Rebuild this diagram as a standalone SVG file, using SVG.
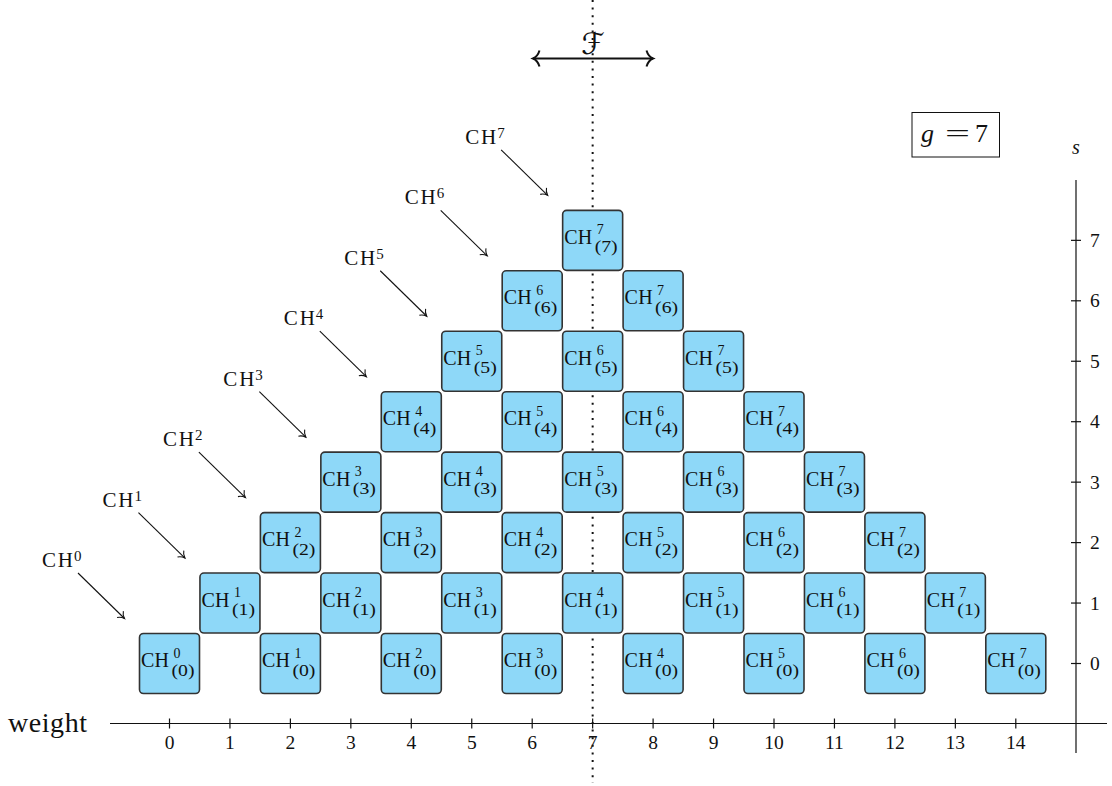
<svg xmlns="http://www.w3.org/2000/svg" width="1112" height="786" viewBox="0 0 1112 786">
<style>
.box{fill:#8ED8F8;stroke:#333;stroke-width:1.6}
.ch{font-family:"Liberation Serif",serif;font-size:20px;fill:#111}
.sup{font-family:"Liberation Serif",serif;font-size:14px;fill:#111}
.sub{font-family:"Liberation Serif",serif;font-size:16px;fill:#111}
.lab{font-family:"Liberation Serif",serif;font-size:21px;fill:#111}
.labsup{font-family:"Liberation Serif",serif;font-size:15px;fill:#111}
.tick{font-family:"Liberation Serif",serif;font-size:19.5px;fill:#111;text-anchor:middle}
.stick{font-family:"Liberation Serif",serif;font-size:19.5px;fill:#111}
.ax{stroke:#111;stroke-width:1.2;fill:none}
.arr{stroke:#111;stroke-width:1.1;fill:none;marker-end:url(#to)}
</style>
<defs>
<marker id="to" markerUnits="userSpaceOnUse" viewBox="-10 -10 12 20" markerWidth="12" markerHeight="20" refX="0" refY="0" orient="auto" overflow="visible">
<path d="M -6 -4.5 C -4.5 -2 -1.5 -0.5 0 0 C -1.5 0.5 -4.5 2 -6 4.5" fill="none" stroke="#111" stroke-width="1.1"/>
</marker>
<marker id="tobig" markerUnits="userSpaceOnUse" viewBox="-10 -10 12 20" markerWidth="12" markerHeight="20" refX="0" refY="0" orient="auto-start-reverse" overflow="visible">
<path d="M -6.5 -8 C -5 -3 -2 -0.8 0 0 C -2 0.8 -5 3 -6.5 8" fill="none" stroke="#111" stroke-width="2"/>
</marker>
</defs>
<rect x="0" y="0" width="1112" height="786" fill="#fff"/>

<g id="dotted-line">
<line x1="592.65" y1="0" x2="592.65" y2="783" stroke="#111" stroke-width="2" stroke-dasharray="2 5.6"/>
</g>

<g id="axes">
<line class="ax" x1="110" y1="723.5" x2="1107" y2="723.5"/>
<line class="ax" x1="1076" y1="180" x2="1076" y2="753"/>
<g class="ax">
<line x1="169.5" y1="718.5" x2="169.5" y2="728.5"/>
<line x1="229.95" y1="718.5" x2="229.95" y2="728.5"/>
<line x1="290.4" y1="718.5" x2="290.4" y2="728.5"/>
<line x1="350.85" y1="718.5" x2="350.85" y2="728.5"/>
<line x1="411.3" y1="718.5" x2="411.3" y2="728.5"/>
<line x1="471.75" y1="718.5" x2="471.75" y2="728.5"/>
<line x1="532.2" y1="718.5" x2="532.2" y2="728.5"/>
<line x1="592.65" y1="718.5" x2="592.65" y2="728.5"/>
<line x1="653.1" y1="718.5" x2="653.1" y2="728.5"/>
<line x1="713.55" y1="718.5" x2="713.55" y2="728.5"/>
<line x1="774" y1="718.5" x2="774" y2="728.5"/>
<line x1="834.45" y1="718.5" x2="834.45" y2="728.5"/>
<line x1="894.9" y1="718.5" x2="894.9" y2="728.5"/>
<line x1="955.35" y1="718.5" x2="955.35" y2="728.5"/>
<line x1="1015.8" y1="718.5" x2="1015.8" y2="728.5"/>
<line x1="1071" y1="663.5" x2="1081" y2="663.5"/>
<line x1="1071" y1="603.05" x2="1081" y2="603.05"/>
<line x1="1071" y1="542.6" x2="1081" y2="542.6"/>
<line x1="1071" y1="482.15" x2="1081" y2="482.15"/>
<line x1="1071" y1="421.7" x2="1081" y2="421.7"/>
<line x1="1071" y1="361.25" x2="1081" y2="361.25"/>
<line x1="1071" y1="300.8" x2="1081" y2="300.8"/>
<line x1="1071" y1="240.35" x2="1081" y2="240.35"/>
</g>
<text x="8" y="732" font-family="Liberation Serif,serif" font-size="28" fill="#111" textLength="79">weight</text>
<text class="tick" x="169.5" y="749">0</text>
<text class="tick" x="229.95" y="749">1</text>
<text class="tick" x="290.4" y="749">2</text>
<text class="tick" x="350.85" y="749">3</text>
<text class="tick" x="411.3" y="749">4</text>
<text class="tick" x="471.75" y="749">5</text>
<text class="tick" x="532.2" y="749">6</text>
<text class="tick" x="592.65" y="749">7</text>
<text class="tick" x="653.1" y="749">8</text>
<text class="tick" x="713.55" y="749">9</text>
<text class="tick" x="774" y="749">10</text>
<text class="tick" x="834.45" y="749">11</text>
<text class="tick" x="894.9" y="749">12</text>
<text class="tick" x="955.35" y="749">13</text>
<text class="tick" x="1015.8" y="749">14</text>
<text class="stick" x="1090" y="670">0</text>
<text class="stick" x="1090" y="609.6">1</text>
<text class="stick" x="1090" y="549.2">2</text>
<text class="stick" x="1090" y="488.7">3</text>
<text class="stick" x="1090" y="428.3">4</text>
<text class="stick" x="1090" y="367.8">5</text>
<text class="stick" x="1090" y="307.4">6</text>
<text class="stick" x="1090" y="247">7</text>
<text x="1072" y="154" font-family="Liberation Serif,serif" font-size="20" font-style="italic" fill="#111">s</text>
</g>

<g id="g-box">
<rect x="912" y="112.5" width="87.5" height="44.5" fill="#fff" stroke="#111" stroke-width="1"/>
<text x="921" y="142" font-family="Liberation Serif,serif" font-size="26" font-style="italic" fill="#111">g</text>
<text x="945" y="142" font-family="Liberation Serif,serif" font-size="26" fill="#111" textLength="25" lengthAdjust="spacingAndGlyphs">=</text>
<text x="975" y="142" font-family="Liberation Serif,serif" font-size="26" fill="#111">7</text>
</g>

<g id="symmetry-F">
<line x1="533" y1="58.5" x2="653" y2="58.5" stroke="#111" stroke-width="2" marker-start="url(#tobig)" marker-end="url(#tobig)"/>
<text x="593" y="54" font-family="DejaVu Serif,DejaVu Sans,serif" font-size="30" font-style="italic" fill="#111" text-anchor="middle">ℱ</text>
</g>

<g id="connectors">
<line class="arr" x1="78" y1="573" x2="124.5" y2="618.5"/>
<line class="arr" x1="138.45" y1="512.55" x2="184.95" y2="558.05"/>
<line class="arr" x1="198.9" y1="452.1" x2="245.4" y2="497.6"/>
<line class="arr" x1="259.35" y1="391.65" x2="305.85" y2="437.15"/>
<line class="arr" x1="319.8" y1="331.2" x2="366.3" y2="376.7"/>
<line class="arr" x1="380.25" y1="270.75" x2="426.75" y2="316.25"/>
<line class="arr" x1="440.7" y1="210.3" x2="487.2" y2="255.8"/>
<line class="arr" x1="501.15" y1="149.85" x2="547.65" y2="195.35"/>
</g>

<g id="labels">
<g id="label-CH0"><text class="lab" x="42" y="567" textLength="31">CH</text><text class="labsup" x="74" y="561">0</text></g>
<g id="label-CH1"><text class="lab" x="102.45" y="506.55" textLength="31">CH</text><text class="labsup" x="134.45" y="500.55">1</text></g>
<g id="label-CH2"><text class="lab" x="162.9" y="446.1" textLength="31">CH</text><text class="labsup" x="194.9" y="440.1">2</text></g>
<g id="label-CH3"><text class="lab" x="223.35" y="385.65" textLength="31">CH</text><text class="labsup" x="255.35" y="379.65">3</text></g>
<g id="label-CH4"><text class="lab" x="283.8" y="325.2" textLength="31">CH</text><text class="labsup" x="315.8" y="319.2">4</text></g>
<g id="label-CH5"><text class="lab" x="344.25" y="264.75" textLength="31">CH</text><text class="labsup" x="376.25" y="258.75">5</text></g>
<g id="label-CH6"><text class="lab" x="404.7" y="204.3" textLength="31">CH</text><text class="labsup" x="436.7" y="198.3">6</text></g>
<g id="label-CH7"><text class="lab" x="465.15" y="143.85" textLength="31">CH</text><text class="labsup" x="497.15" y="137.85">7</text></g>
</g>

<g id="nodes">
<g id="n0-0" transform="translate(169.5,663.5)"><rect class="box" x="-30" y="-30" width="60" height="60" rx="4"/><text class="ch" x="-28.5" y="3.5" textLength="28">CH</text><text class="sup" x="4" y="-6">0</text><text class="sub" x="2" y="12" textLength="23" lengthAdjust="spacingAndGlyphs">(0)</text></g>
<g id="n1-1" transform="translate(229.95,603.05)"><rect class="box" x="-30" y="-30" width="60" height="60" rx="4"/><text class="ch" x="-28.5" y="3.5" textLength="28">CH</text><text class="sup" x="4" y="-6">1</text><text class="sub" x="2" y="12" textLength="23" lengthAdjust="spacingAndGlyphs">(1)</text></g>
<g id="n1-0" transform="translate(290.4,663.5)"><rect class="box" x="-30" y="-30" width="60" height="60" rx="4"/><text class="ch" x="-28.5" y="3.5" textLength="28">CH</text><text class="sup" x="4" y="-6">1</text><text class="sub" x="2" y="12" textLength="23" lengthAdjust="spacingAndGlyphs">(0)</text></g>
<g id="n2-2" transform="translate(290.4,542.6)"><rect class="box" x="-30" y="-30" width="60" height="60" rx="4"/><text class="ch" x="-28.5" y="3.5" textLength="28">CH</text><text class="sup" x="4" y="-6">2</text><text class="sub" x="2" y="12" textLength="23" lengthAdjust="spacingAndGlyphs">(2)</text></g>
<g id="n2-1" transform="translate(350.85,603.05)"><rect class="box" x="-30" y="-30" width="60" height="60" rx="4"/><text class="ch" x="-28.5" y="3.5" textLength="28">CH</text><text class="sup" x="4" y="-6">2</text><text class="sub" x="2" y="12" textLength="23" lengthAdjust="spacingAndGlyphs">(1)</text></g>
<g id="n2-0" transform="translate(411.3,663.5)"><rect class="box" x="-30" y="-30" width="60" height="60" rx="4"/><text class="ch" x="-28.5" y="3.5" textLength="28">CH</text><text class="sup" x="4" y="-6">2</text><text class="sub" x="2" y="12" textLength="23" lengthAdjust="spacingAndGlyphs">(0)</text></g>
<g id="n3-3" transform="translate(350.85,482.15)"><rect class="box" x="-30" y="-30" width="60" height="60" rx="4"/><text class="ch" x="-28.5" y="3.5" textLength="28">CH</text><text class="sup" x="4" y="-6">3</text><text class="sub" x="2" y="12" textLength="23" lengthAdjust="spacingAndGlyphs">(3)</text></g>
<g id="n3-2" transform="translate(411.3,542.6)"><rect class="box" x="-30" y="-30" width="60" height="60" rx="4"/><text class="ch" x="-28.5" y="3.5" textLength="28">CH</text><text class="sup" x="4" y="-6">3</text><text class="sub" x="2" y="12" textLength="23" lengthAdjust="spacingAndGlyphs">(2)</text></g>
<g id="n3-1" transform="translate(471.75,603.05)"><rect class="box" x="-30" y="-30" width="60" height="60" rx="4"/><text class="ch" x="-28.5" y="3.5" textLength="28">CH</text><text class="sup" x="4" y="-6">3</text><text class="sub" x="2" y="12" textLength="23" lengthAdjust="spacingAndGlyphs">(1)</text></g>
<g id="n3-0" transform="translate(532.2,663.5)"><rect class="box" x="-30" y="-30" width="60" height="60" rx="4"/><text class="ch" x="-28.5" y="3.5" textLength="28">CH</text><text class="sup" x="4" y="-6">3</text><text class="sub" x="2" y="12" textLength="23" lengthAdjust="spacingAndGlyphs">(0)</text></g>
<g id="n4-4" transform="translate(411.3,421.7)"><rect class="box" x="-30" y="-30" width="60" height="60" rx="4"/><text class="ch" x="-28.5" y="3.5" textLength="28">CH</text><text class="sup" x="4" y="-6">4</text><text class="sub" x="2" y="12" textLength="23" lengthAdjust="spacingAndGlyphs">(4)</text></g>
<g id="n4-3" transform="translate(471.75,482.15)"><rect class="box" x="-30" y="-30" width="60" height="60" rx="4"/><text class="ch" x="-28.5" y="3.5" textLength="28">CH</text><text class="sup" x="4" y="-6">4</text><text class="sub" x="2" y="12" textLength="23" lengthAdjust="spacingAndGlyphs">(3)</text></g>
<g id="n4-2" transform="translate(532.2,542.6)"><rect class="box" x="-30" y="-30" width="60" height="60" rx="4"/><text class="ch" x="-28.5" y="3.5" textLength="28">CH</text><text class="sup" x="4" y="-6">4</text><text class="sub" x="2" y="12" textLength="23" lengthAdjust="spacingAndGlyphs">(2)</text></g>
<g id="n4-1" transform="translate(592.65,603.05)"><rect class="box" x="-30" y="-30" width="60" height="60" rx="4"/><text class="ch" x="-28.5" y="3.5" textLength="28">CH</text><text class="sup" x="4" y="-6">4</text><text class="sub" x="2" y="12" textLength="23" lengthAdjust="spacingAndGlyphs">(1)</text></g>
<g id="n4-0" transform="translate(653.1,663.5)"><rect class="box" x="-30" y="-30" width="60" height="60" rx="4"/><text class="ch" x="-28.5" y="3.5" textLength="28">CH</text><text class="sup" x="4" y="-6">4</text><text class="sub" x="2" y="12" textLength="23" lengthAdjust="spacingAndGlyphs">(0)</text></g>
<g id="n5-5" transform="translate(471.75,361.25)"><rect class="box" x="-30" y="-30" width="60" height="60" rx="4"/><text class="ch" x="-28.5" y="3.5" textLength="28">CH</text><text class="sup" x="4" y="-6">5</text><text class="sub" x="2" y="12" textLength="23" lengthAdjust="spacingAndGlyphs">(5)</text></g>
<g id="n5-4" transform="translate(532.2,421.7)"><rect class="box" x="-30" y="-30" width="60" height="60" rx="4"/><text class="ch" x="-28.5" y="3.5" textLength="28">CH</text><text class="sup" x="4" y="-6">5</text><text class="sub" x="2" y="12" textLength="23" lengthAdjust="spacingAndGlyphs">(4)</text></g>
<g id="n5-3" transform="translate(592.65,482.15)"><rect class="box" x="-30" y="-30" width="60" height="60" rx="4"/><text class="ch" x="-28.5" y="3.5" textLength="28">CH</text><text class="sup" x="4" y="-6">5</text><text class="sub" x="2" y="12" textLength="23" lengthAdjust="spacingAndGlyphs">(3)</text></g>
<g id="n5-2" transform="translate(653.1,542.6)"><rect class="box" x="-30" y="-30" width="60" height="60" rx="4"/><text class="ch" x="-28.5" y="3.5" textLength="28">CH</text><text class="sup" x="4" y="-6">5</text><text class="sub" x="2" y="12" textLength="23" lengthAdjust="spacingAndGlyphs">(2)</text></g>
<g id="n5-1" transform="translate(713.55,603.05)"><rect class="box" x="-30" y="-30" width="60" height="60" rx="4"/><text class="ch" x="-28.5" y="3.5" textLength="28">CH</text><text class="sup" x="4" y="-6">5</text><text class="sub" x="2" y="12" textLength="23" lengthAdjust="spacingAndGlyphs">(1)</text></g>
<g id="n5-0" transform="translate(774,663.5)"><rect class="box" x="-30" y="-30" width="60" height="60" rx="4"/><text class="ch" x="-28.5" y="3.5" textLength="28">CH</text><text class="sup" x="4" y="-6">5</text><text class="sub" x="2" y="12" textLength="23" lengthAdjust="spacingAndGlyphs">(0)</text></g>
<g id="n6-6" transform="translate(532.2,300.8)"><rect class="box" x="-30" y="-30" width="60" height="60" rx="4"/><text class="ch" x="-28.5" y="3.5" textLength="28">CH</text><text class="sup" x="4" y="-6">6</text><text class="sub" x="2" y="12" textLength="23" lengthAdjust="spacingAndGlyphs">(6)</text></g>
<g id="n6-5" transform="translate(592.65,361.25)"><rect class="box" x="-30" y="-30" width="60" height="60" rx="4"/><text class="ch" x="-28.5" y="3.5" textLength="28">CH</text><text class="sup" x="4" y="-6">6</text><text class="sub" x="2" y="12" textLength="23" lengthAdjust="spacingAndGlyphs">(5)</text></g>
<g id="n6-4" transform="translate(653.1,421.7)"><rect class="box" x="-30" y="-30" width="60" height="60" rx="4"/><text class="ch" x="-28.5" y="3.5" textLength="28">CH</text><text class="sup" x="4" y="-6">6</text><text class="sub" x="2" y="12" textLength="23" lengthAdjust="spacingAndGlyphs">(4)</text></g>
<g id="n6-3" transform="translate(713.55,482.15)"><rect class="box" x="-30" y="-30" width="60" height="60" rx="4"/><text class="ch" x="-28.5" y="3.5" textLength="28">CH</text><text class="sup" x="4" y="-6">6</text><text class="sub" x="2" y="12" textLength="23" lengthAdjust="spacingAndGlyphs">(3)</text></g>
<g id="n6-2" transform="translate(774,542.6)"><rect class="box" x="-30" y="-30" width="60" height="60" rx="4"/><text class="ch" x="-28.5" y="3.5" textLength="28">CH</text><text class="sup" x="4" y="-6">6</text><text class="sub" x="2" y="12" textLength="23" lengthAdjust="spacingAndGlyphs">(2)</text></g>
<g id="n6-1" transform="translate(834.45,603.05)"><rect class="box" x="-30" y="-30" width="60" height="60" rx="4"/><text class="ch" x="-28.5" y="3.5" textLength="28">CH</text><text class="sup" x="4" y="-6">6</text><text class="sub" x="2" y="12" textLength="23" lengthAdjust="spacingAndGlyphs">(1)</text></g>
<g id="n6-0" transform="translate(894.9,663.5)"><rect class="box" x="-30" y="-30" width="60" height="60" rx="4"/><text class="ch" x="-28.5" y="3.5" textLength="28">CH</text><text class="sup" x="4" y="-6">6</text><text class="sub" x="2" y="12" textLength="23" lengthAdjust="spacingAndGlyphs">(0)</text></g>
<g id="n7-7" transform="translate(592.65,240.35)"><rect class="box" x="-30" y="-30" width="60" height="60" rx="4"/><text class="ch" x="-28.5" y="3.5" textLength="28">CH</text><text class="sup" x="4" y="-6">7</text><text class="sub" x="2" y="12" textLength="23" lengthAdjust="spacingAndGlyphs">(7)</text></g>
<g id="n7-6" transform="translate(653.1,300.8)"><rect class="box" x="-30" y="-30" width="60" height="60" rx="4"/><text class="ch" x="-28.5" y="3.5" textLength="28">CH</text><text class="sup" x="4" y="-6">7</text><text class="sub" x="2" y="12" textLength="23" lengthAdjust="spacingAndGlyphs">(6)</text></g>
<g id="n7-5" transform="translate(713.55,361.25)"><rect class="box" x="-30" y="-30" width="60" height="60" rx="4"/><text class="ch" x="-28.5" y="3.5" textLength="28">CH</text><text class="sup" x="4" y="-6">7</text><text class="sub" x="2" y="12" textLength="23" lengthAdjust="spacingAndGlyphs">(5)</text></g>
<g id="n7-4" transform="translate(774,421.7)"><rect class="box" x="-30" y="-30" width="60" height="60" rx="4"/><text class="ch" x="-28.5" y="3.5" textLength="28">CH</text><text class="sup" x="4" y="-6">7</text><text class="sub" x="2" y="12" textLength="23" lengthAdjust="spacingAndGlyphs">(4)</text></g>
<g id="n7-3" transform="translate(834.45,482.15)"><rect class="box" x="-30" y="-30" width="60" height="60" rx="4"/><text class="ch" x="-28.5" y="3.5" textLength="28">CH</text><text class="sup" x="4" y="-6">7</text><text class="sub" x="2" y="12" textLength="23" lengthAdjust="spacingAndGlyphs">(3)</text></g>
<g id="n7-2" transform="translate(894.9,542.6)"><rect class="box" x="-30" y="-30" width="60" height="60" rx="4"/><text class="ch" x="-28.5" y="3.5" textLength="28">CH</text><text class="sup" x="4" y="-6">7</text><text class="sub" x="2" y="12" textLength="23" lengthAdjust="spacingAndGlyphs">(2)</text></g>
<g id="n7-1" transform="translate(955.35,603.05)"><rect class="box" x="-30" y="-30" width="60" height="60" rx="4"/><text class="ch" x="-28.5" y="3.5" textLength="28">CH</text><text class="sup" x="4" y="-6">7</text><text class="sub" x="2" y="12" textLength="23" lengthAdjust="spacingAndGlyphs">(1)</text></g>
<g id="n7-0" transform="translate(1015.8,663.5)"><rect class="box" x="-30" y="-30" width="60" height="60" rx="4"/><text class="ch" x="-28.5" y="3.5" textLength="28">CH</text><text class="sup" x="4" y="-6">7</text><text class="sub" x="2" y="12" textLength="23" lengthAdjust="spacingAndGlyphs">(0)</text></g>
</g>
</svg>
